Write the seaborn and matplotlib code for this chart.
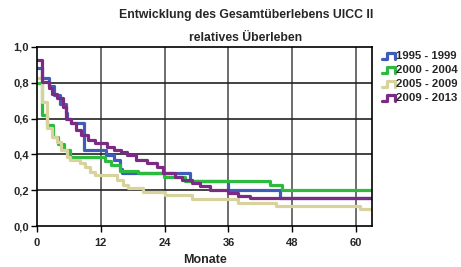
import numpy as np
import pandas as pd
import seaborn as sns
import matplotlib
matplotlib.use("Agg")
import matplotlib.pyplot as plt
from matplotlib.lines import Line2D
from matplotlib.legend_handler import HandlerBase

# survival curves (month of step, survival after step)
groups = ["1995 - 1999", "2000 - 2004", "2005 - 2009", "2009 - 2013"]
t_1995 = [0, 1.0, 2.2, 3.2, 4.3, 5.4, 5.7, 6.3, 8.8, 12.9, 14.5, 15.6, 15.9, 28.8, 36.0, 45.7, 63]
s_1995 = [0.88, 0.825, 0.78, 0.73, 0.68, 0.63, 0.60, 0.575, 0.425, 0.397, 0.37, 0.32, 0.294, 0.25, 0.20, 0.155, 0.155]
t_2000 = [0, 1.0, 1.8, 3.1, 4.0, 5.0, 6.2, 12.8, 14.0, 15.6, 19.0, 23.8, 27.8, 43.8, 46.0, 63]
s_2000 = [0.80, 0.62, 0.565, 0.50, 0.46, 0.425, 0.385, 0.365, 0.34, 0.31, 0.295, 0.275, 0.25, 0.23, 0.20, 0.20]
t_2005 = [0, 1.0, 1.8, 2.8, 3.7, 4.6, 5.6, 6.2, 8.1, 9.0, 10.0, 10.9, 15.0, 16.2, 17.2, 20.0, 24.0, 29.1, 37.8, 45.0, 60.7, 63]
s_2005 = [0.825, 0.69, 0.545, 0.50, 0.47, 0.425, 0.387, 0.37, 0.35, 0.33, 0.30, 0.285, 0.257, 0.23, 0.21, 0.19, 0.175, 0.15, 0.13, 0.11, 0.095, 0.095]
t_2009 = [0, 1.0, 2.2, 2.9, 3.8, 4.8, 5.4, 6.3, 7.3, 8.2, 9.5, 11.0, 13.2, 14.5, 15.8, 16.9, 18.7, 20.6, 22.5, 23.7, 25.9, 27.2, 29.1, 30.6, 32.5, 36.0, 37.8, 40.0, 63]
s_2009 = [0.925, 0.806, 0.77, 0.74, 0.713, 0.667, 0.60, 0.575, 0.536, 0.508, 0.48, 0.462, 0.443, 0.425, 0.415, 0.397, 0.37, 0.35, 0.33, 0.294, 0.275, 0.257, 0.238, 0.225, 0.20, 0.183, 0.17, 0.155, 0.155]
x_ticks = [0, 12, 24, 36, 48, 60]
y_ticks = [0.0, 0.2, 0.4, 0.6, 0.8, 1.0]
colors = ["#3f5cb8", "#2dbb3f", "#d8d29c", "#7b2b84"]

df = pd.concat([
    pd.DataFrame({"Monate": t, "surv": s, "group": g})
    for t, s, g in zip([t_1995, t_2000, t_2005, t_2009],
                       [s_1995, s_2000, s_2005, s_2009], groups)
], ignore_index=True)

sns.set_style("white")
plt.rcParams["font.family"] = ["Liberation Sans", "DejaVu Sans"]

fig = plt.figure(figsize=(4.61, 2.67), dpi=100)
ax = fig.add_axes([37/461, 1-226/267, 335/461, 179/267])

for x in x_ticks[1:]:
    ax.axvline(x, color="#555555", lw=1.2, zorder=0)
for y in y_ticks[1:-1]:
    ax.axhline(y, color="#222222", lw=1.2, zorder=0)

sns.lineplot(data=df, x="Monate", y="surv", hue="group", palette=colors,
             estimator=None, sort=False, drawstyle="steps-post", lw=2.3,
             legend=False, ax=ax)

ax.set_xlim(0, 63)
ax.set_ylim(0, 1.0)
ax.set_xticks(x_ticks)
ax.set_yticks(y_ticks)
ax.set_yticklabels([f"{v:.1f}".replace(".", ",") for v in y_ticks])
ax.tick_params(axis="x", length=4, width=1, labelsize=8, pad=5, color="black", bottom=True)
ax.tick_params(axis="y", length=4, width=1, labelsize=8, pad=2, color="black", left=True)
for lab in ax.get_xticklabels() + ax.get_yticklabels():
    lab.set_fontweight("bold")
ax.set_xlabel("Monate", fontsize=9, fontweight="bold", labelpad=4)
ax.set_ylabel("")
for sp in ax.spines.values():
    sp.set_color("black")
    sp.set_linewidth(1.2)

fig.text(246/461, 1-15/267, "Entwicklung des Gesamtüberlebens UICC II",
         ha="center", va="center", fontsize=8.8, fontweight="bold")
fig.text(246/461, 1-38/267, "relatives Überleben",
         ha="center", va="center", fontsize=8.8, fontweight="bold")


class StepHandler(HandlerBase):
    def create_artists(self, legend, orig, xd, yd, w, h, fontsize, trans):
        xs = np.array([0, 0.4, 0.4, 1.0, 1.0]) * w - xd
        ys = np.array([0.1, 0.1, 0.8, 0.8, 0.1]) * h - yd
        ln = Line2D(xs, ys, color=orig.get_color(), lw=2.3, transform=trans)
        return [ln]


handles = [Line2D([], [], color=c) for c in colors]
leg = fig.legend(handles, groups, loc="upper left",
                 bbox_to_anchor=(382/461, 1-51/267), frameon=False,
                 handler_map={Line2D: StepHandler()}, handlelength=1.1,
                 handleheight=0.8, handletextpad=0.1, labelspacing=0.32,
                 prop={"size": 8.2, "weight": "bold"}, borderaxespad=0,
                 borderpad=0)

fig.savefig("out.png", dpi=100)
